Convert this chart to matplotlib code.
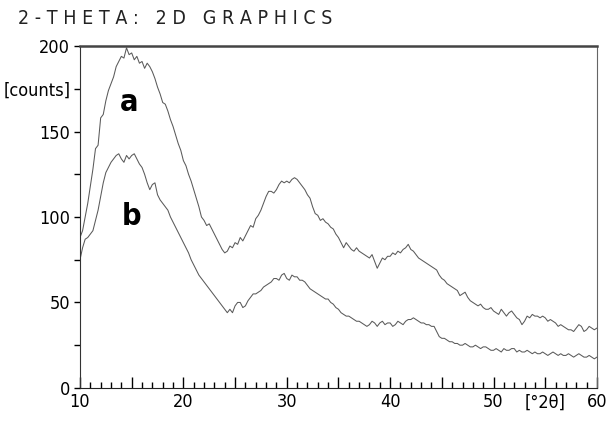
import numpy as np
import matplotlib
matplotlib.use("Agg")
import matplotlib.pyplot as plt

# counts, 10-60 deg 2theta in 0.25 steps
counts_a = [88, 92, 100, 108, 118, 128, 140, 142, 158, 160, 168, 174, 178, 182, 188, 191,
            194, 193, 199, 195, 196, 192, 194, 190, 191, 187, 190, 188, 185, 181, 176, 172,
            167, 166, 162, 157, 153, 148, 143, 139, 133, 130, 125, 121, 116, 111, 106, 100,
            98, 95, 96, 93, 90, 87, 84, 81, 79, 80, 83, 82, 85, 84, 88, 86,
            89, 92, 95, 94, 99, 101, 104, 108, 112, 115, 115, 114, 116, 119, 121, 120,
            121, 120, 122, 123, 122, 120, 118, 116, 113, 111, 106, 102, 101, 98, 99, 97,
            96, 94, 93, 90, 88, 85, 82, 85, 83, 81, 80, 82, 80, 79, 78, 77,
            76, 78, 74, 70, 73, 76, 75, 77, 77, 79, 78, 80, 79, 81, 82, 84,
            81, 80, 78, 76, 75, 74, 73, 72, 71, 70, 69, 66, 64, 63, 61, 60,
            59, 58, 57, 54, 55, 56, 53, 51, 50, 49, 48, 49, 47, 46, 46, 47,
            45, 44, 43, 46, 44, 42, 44, 45, 43, 41, 40, 37, 39, 42, 41, 43,
            42, 42, 41, 42, 41, 39, 40, 39, 38, 36, 37, 36, 35, 34, 34, 33,
            35, 37, 36, 33, 34, 36, 35, 34, 35]

counts_b = [75, 82, 87, 88, 90, 92, 98, 104, 112, 120, 126, 129, 132, 134, 136, 137,
            134, 132, 136, 134, 136, 137, 134, 131, 129, 125, 120, 116, 119, 120, 113, 110,
            108, 106, 104, 100, 97, 94, 91, 88, 85, 82, 79, 75, 72, 69, 66, 64,
            62, 60, 58, 56, 54, 52, 50, 48, 46, 44, 46, 44, 48, 50, 50, 47,
            48, 51, 53, 55, 55, 56, 57, 59, 60, 61, 62, 64, 64, 63, 66, 67,
            64, 63, 66, 65, 65, 63, 63, 62, 60, 58, 57, 56, 55, 54, 53, 52,
            52, 50, 49, 47, 46, 44, 43, 42, 42, 41, 40, 39, 39, 38, 37, 36,
            37, 39, 38, 36, 38, 39, 37, 38, 38, 36, 37, 39, 38, 37, 39, 40,
            40, 41, 40, 39, 38, 38, 37, 37, 36, 36, 33, 30, 29, 29, 28, 27,
            27, 26, 26, 25, 25, 26, 25, 24, 24, 25, 24, 23, 24, 24, 23, 22,
            22, 23, 22, 21, 23, 22, 22, 23, 23, 21, 22, 21, 21, 22, 21, 20,
            21, 20, 20, 21, 20, 19, 20, 21, 20, 19, 20, 19, 19, 20, 19, 18,
            19, 20, 19, 18, 18, 19, 18, 17, 18]

x_ticks = [10, 15, 20, 25, 30, 35, 40, 45, 50, 55, 60]
x_labels = ["10", "", "20", "", "30", "", "40", "", "50", "[°2θ]", "60"]
y_ticks = [0, 25, 50, 75, 100, 125, 150, 175, 200]
y_labels = ["0", "", "50", "", "100", "", "150", "[counts]", "200"]

two_theta_a = np.linspace(10, 60, len(counts_a))
two_theta_b = np.linspace(10, 60, len(counts_b))

plt.rcParams["font.family"] = ["DejaVu Sans"]
plt.rcParams["font.stretch"] = "condensed"

fig = plt.figure(figsize=(6.06, 4.23), dpi=100)
ax = fig.add_axes([0.132, 0.083, 0.853, 0.808])

ax.plot(two_theta_a, counts_a, color="#5a5a5a", lw=0.75)
ax.plot(two_theta_b, counts_b, color="#5a5a5a", lw=0.75)

ax.set_xlim(10, 60)
ax.set_ylim(0, 200)

ax.set_xticks(x_ticks)
ax.set_xticklabels(x_labels)
ax.set_xticks(range(10, 61), minor=True)
ax.set_yticks(y_ticks)
ax.set_yticklabels(y_labels)

ax.tick_params(axis="x", which="major", direction="in", length=8, width=1, labelsize=13, pad=4)
ax.tick_params(axis="x", which="minor", direction="in", length=4, width=1)
ax.tick_params(axis="y", direction="out", length=4, width=1, labelsize=13, pad=3)

ax.spines["left"].set_color("#333333")
ax.spines["bottom"].set_color("#222222")
ax.spines["top"].set_color("#444444")
ax.spines["top"].set_linewidth(1.8)
ax.spines["right"].set_color("#666666")

ax.text(14.8, 167, "a", fontsize=22, fontweight="bold", ha="center", va="center")
ax.text(15.0, 100, "b", fontsize=22, fontweight="bold", ha="center", va="center")

fig.text(0.03, 0.957, "2 - T H E T A :   2 D   G R A P H I C S", fontsize=14,
         ha="left", va="center", color="#222222")

fig.savefig("out.png", dpi=100)
